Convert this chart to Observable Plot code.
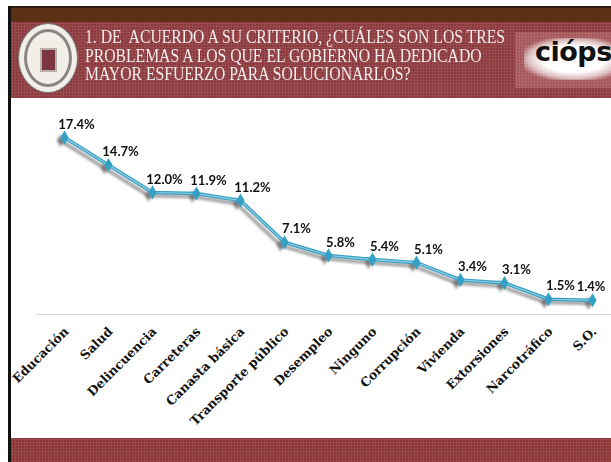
<!DOCTYPE html>
<html><head><meta charset="utf-8">
<script src="https://cdn.jsdelivr.net/npm/d3@7"></script>
<script src="https://cdn.jsdelivr.net/npm/@observablehq/plot@0.6"></script>
<style>
html,body{margin:0;padding:0;background:#fff;}
#page{position:relative;width:611px;height:462px;overflow:hidden;background:#fff;}
.tex{background-image:radial-gradient(rgba(255,255,255,0.13) 0.8px, transparent 1.3px);background-size:3px 3px;}
#topline{position:absolute;left:8px;top:6px;width:603px;height:2px;background:#2a1a12;}
#brown{position:absolute;left:8px;top:8px;width:603px;height:14px;background:#5b3017;}
#band{position:absolute;left:8px;top:22px;width:603px;height:76px;background-color:#8d3a3e;}
#leftborder{position:absolute;left:8px;top:6px;width:3px;height:456px;background:#111;z-index:5;}
#footer{position:absolute;left:8px;top:438px;width:603px;height:24px;background-color:#8b3535;}
#logo{position:absolute;left:18px;top:23px;width:60px;height:70px;border-radius:50%;background:#f2eee8;border:1px solid #777;box-sizing:border-box;}
#logo .ring{position:absolute;left:5px;top:5px;right:5px;bottom:5px;border-radius:50%;border:3px solid #8a8580;box-sizing:border-box;}
#logo .shield{position:absolute;left:21px;top:24px;width:17px;height:24px;background:#7d3540;border:2px solid #b9b2ab;box-sizing:border-box;}
#title{position:absolute;left:85px;top:28px;color:#f3ecec;font-family:"Liberation Serif",serif;font-size:18px;line-height:18.5px;white-space:nowrap;transform-origin:0 0;}
#ciopsbox{position:absolute;left:515px;top:32px;width:96px;height:56px;background-color:#a6575b;}
#glow{position:absolute;left:524px;top:38px;width:100px;height:42px;background:radial-gradient(ellipse at 50% 50%, #ffffff 45%, rgba(255,255,255,0.6) 65%, rgba(255,255,255,0) 80%);}
#ciops{position:absolute;left:535px;top:36px;font-family:"DejaVu Sans",sans-serif;font-weight:bold;font-size:27px;color:#111;letter-spacing:-0.5px;}
#chart{position:absolute;left:0;top:98px;}
</style></head>
<body><div id="page">
<div id="brown"></div>
<div id="band" class="tex"></div>
<div id="topline"></div>
<div id="logo"><div class="ring"></div><div class="shield"></div></div>
<div id="title">1. DE&nbsp; ACUERDO A SU CRITERIO, ¿CUÁLES SON LOS TRES<br>PROBLEMAS A LOS QUE EL GOBIERNO HA DEDICADO<br>MAYOR ESFUERZO PARA SOLUCIONARLOS?</div>
<div id="ciopsbox" class="tex"></div>
<div id="glow"></div>
<div id="ciops">cióps</div>
<div id="footer" class="tex"></div>
<div id="leftborder"></div>
<div id="chart"></div>
</div>
<script>
const categories = ["Educación","Salud","Delincuencia","Carreteras","Canasta básica","Transporte público","Desempleo","Ninguno","Corrupción","Vivienda","Extorsiones","Narcotráfico","S.O."];
const values = [17.4,14.7,12.0,11.9,11.2,7.1,5.8,5.4,5.1,3.4,3.1,1.5,1.4];
const data = categories.map((c,i)=>({category:c, value:values[i]}));

// fit title width to the reference line length
(function(){
  const t = document.getElementById("title");
  const probe = document.createElement("span");
  probe.style.cssText = "font-family:'Liberation Serif',serif;font-size:18px;white-space:nowrap;position:absolute;visibility:hidden";
  probe.textContent = "1. DE\u00a0 ACUERDO A SU CRITERIO, ¿CUÁLES SON LOS TRES";
  document.body.appendChild(probe);
  const lw = probe.getBoundingClientRect().width;
  t.style.transform = `scaleX(${420 / lw})`;
  probe.remove();
})();

const labelStyle = {x: "category", y: "value", text: d => d.value.toFixed(1) + "%", dy: -13, fontWeight: "bold", fontSize: 13, fontFamily: "Lato", fill: "#111"};

const chart = Plot.plot({
  width: 611, height: 340,
  marginLeft: 36, marginRight: 0, marginTop: 10, marginBottom: 124,
  x: {type: "point", domain: categories, range: [58, 597], padding: 0},
  y: {domain: [0, 20], range: [216, 216 - 20 * 10.17], axis: null},
  style: {background: "transparent", overflow: "visible"},
  marks: [
    Plot.ruleY([0], {stroke: "#d9d9d9", strokeWidth: 1.2}),
    Plot.line(data, {x: "category", y: "value", stroke: "#555", strokeWidth: 4, strokeOpacity: 0.5, dx: -4, dy: 3}),
    Plot.dot(data, {x: "category", y: "value", symbol: "diamond", r: 4, fill: "#555", fillOpacity: 0.6, dx: -4, dy: 3}),
    Plot.line(data, {x: "category", y: "value", stroke: "#3a9ec2", strokeWidth: 3.5}),
    Plot.line(data, {x: "category", y: "value", stroke: "#8fd2e6", strokeWidth: 1.1}),
    Plot.dot(data, {x: "category", y: "value", symbol: "diamond", r: 4.3, fill: "#35a0c6"}),
    Plot.text(data.slice(0, -1), {...labelStyle, dx: 12}),
    Plot.text(data.slice(-1), {...labelStyle, dx: 13, textAnchor: "end"}),
    Plot.axisX({tickRotate: -45, tickSize: 0, tickPadding: 15, dx: 2, fontWeight: "bold", fontSize: 12.5, fontFamily: "DejaVu Serif", fill: "#111", label: null})
  ]
});
document.getElementById("chart").appendChild(chart);

// soft shadow blur
const svg = d3.select(chart);
const defs = svg.insert("defs", ":first-child");
defs.append("filter").attr("id", "blur").attr("x", "-10%").attr("y", "-10%").attr("width", "120%").attr("height", "130%")
  .append("feGaussianBlur").attr("stdDeviation", 1.3);
const lines = svg.selectAll('g[aria-label="line"]').nodes();
if (lines[0]) lines[0].setAttribute("filter", "url(#blur)");
const dots = svg.selectAll('g[aria-label="dot"]').nodes();
if (dots[0]) dots[0].setAttribute("filter", "url(#blur)");
</script>
</body></html>
